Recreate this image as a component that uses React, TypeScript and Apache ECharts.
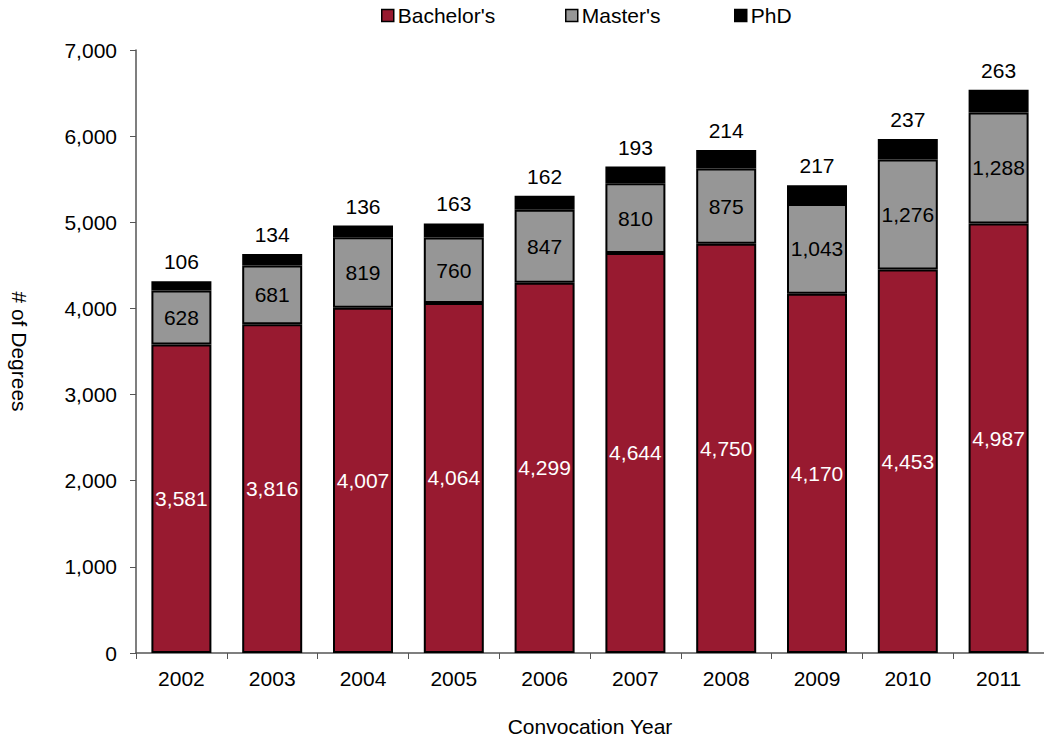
import React, { useEffect, useRef } from "react";
import * as echarts from "echarts";

const years = ["2002", "2003", "2004", "2005", "2006", "2007", "2008", "2009", "2010", "2011"];
const bachelors = [3581, 3816, 4007, 4064, 4299, 4644, 4750, 4170, 4453, 4987];
const masters = [628, 681, 819, 760, 847, 810, 875, 1043, 1276, 1288];
const phd = [106, 134, 136, 163, 162, 193, 214, 217, 237, 263];
const seriesNames = ["Bachelor's", "Master's", "PhD"];
const legendLefts = [381, 565, 734];

const FONT = "'Liberation Sans', Arial, sans-serif";
const FS = 21;
const fmt = (v: number) => v.toLocaleString("en-US");

export default function App() {
  const ref = useRef<HTMLDivElement>(null);
  useEffect(() => {
    const chart = echarts.init(ref.current!, null, { renderer: "svg" });
    const border = { borderColor: "#000", borderWidth: 2 };
    chart.setOption({
      animation: false,
      textStyle: { fontFamily: FONT },
      legend: seriesNames.map((n, i) => ({
        top: 5,
        left: legendLefts[i],
        padding: 0,
        itemWidth: 12,
        itemHeight: 12,
        icon: "rect",
        itemStyle: { borderColor: "#000", borderWidth: 1.5 },
        textStyle: { fontSize: FS, color: "#000", fontFamily: FONT, padding: [0, 0, 0, -1] },
        data: [n],
      })),
      grid: { left: 136, right: -9, top: 50, bottom: 86, containLabel: false },
      xAxis: {
        type: "category",
        data: years,
        name: "Convocation Year",
        nameLocation: "middle",
        nameGap: 63,
        nameTextStyle: { fontSize: FS, color: "#000", fontFamily: FONT },
        axisLine: { lineStyle: { color: "#555", width: 1.5 } },
        axisTick: { show: true, length: 6, lineStyle: { color: "#555" } },
        axisLabel: { fontSize: FS, color: "#000", margin: 15, fontFamily: FONT },
      },
      yAxis: {
        type: "value",
        min: 0,
        max: 7000,
        interval: 1000,
        name: "# of Degrees",
        nameLocation: "middle",
        nameGap: 106,
        nameRotate: -90,
        nameTextStyle: { fontSize: FS, color: "#000", fontFamily: FONT },
        axisLine: { show: true, lineStyle: { color: "#555", width: 1.5 } },
        axisTick: { show: true, length: 6, lineStyle: { color: "#555" } },
        splitLine: { show: false },
        axisLabel: { fontSize: FS, color: "#000", margin: 19, formatter: (v: number) => fmt(v), fontFamily: FONT },
      },
      series: [
        {
          name: seriesNames[0],
          type: "bar",
          stack: "a",
          barWidth: 60,
          data: bachelors,
          itemStyle: { color: "#981A30", ...border },
          label: { show: true, position: "inside", color: "#fff", fontSize: FS, fontFamily: FONT, formatter: (p: any) => fmt(p.value) },
        },
        {
          name: seriesNames[1],
          type: "bar",
          stack: "a",
          data: masters,
          itemStyle: { color: "#969696", ...border },
          label: { show: true, position: "inside", color: "#000", fontSize: FS, fontFamily: FONT, formatter: (p: any) => fmt(p.value) },
        },
        {
          name: seriesNames[2],
          type: "bar",
          stack: "a",
          data: phd,
          itemStyle: { color: "#000", ...border },
          label: { show: true, position: "top", distance: 9, color: "#000", fontSize: FS, fontFamily: FONT, formatter: (p: any) => fmt(p.value) },
        },
      ],
    });
    return () => chart.dispose();
  }, []);
  return <div ref={ref} style={{ position: "absolute", left: 0, top: 0, width: 1044, height: 742 }} />;
}
